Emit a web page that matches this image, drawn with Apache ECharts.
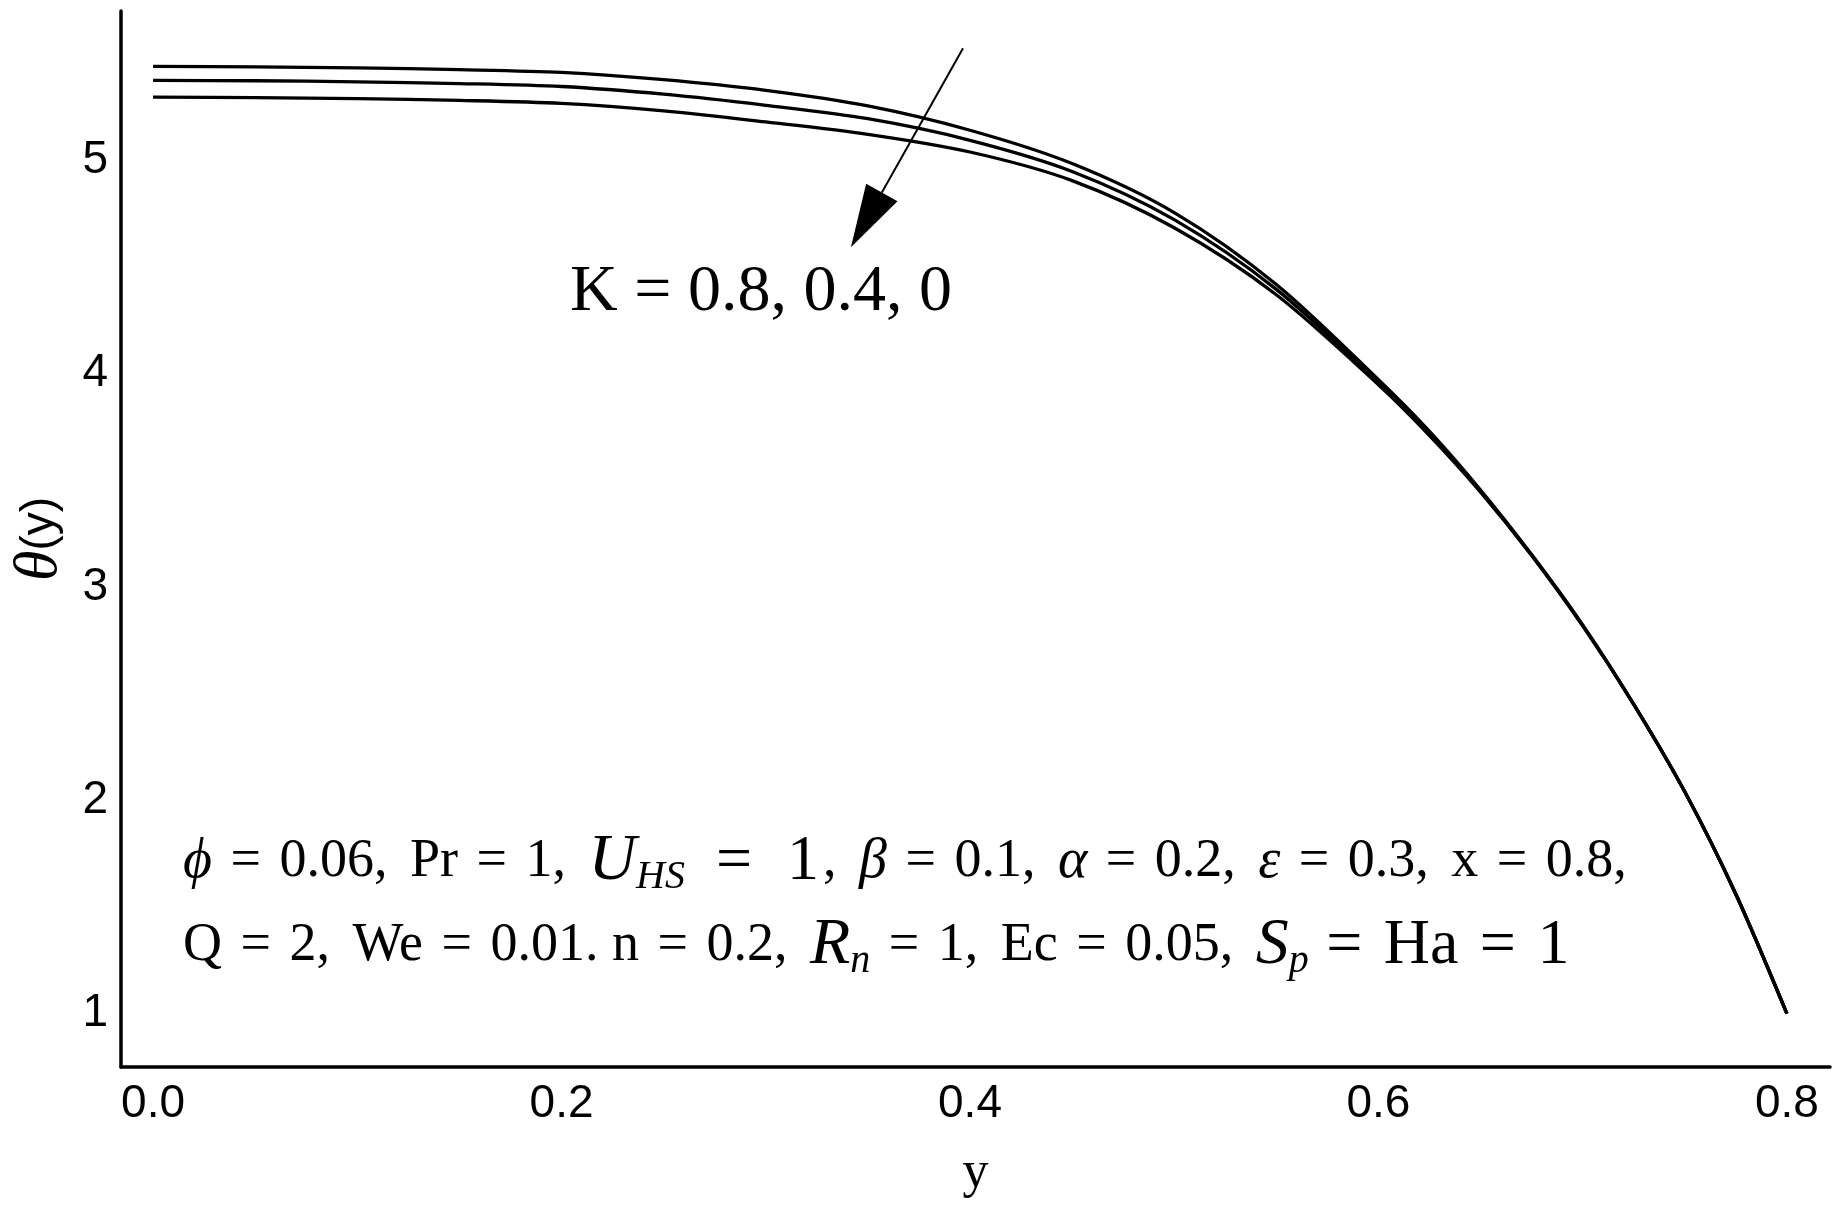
<!DOCTYPE html>
<html>
<head>
<meta charset="utf-8">
<script src="https://cdn.jsdelivr.net/npm/echarts@6/dist/echarts.min.js"></script>
<style>
html,body{margin:0;padding:0;background:#fff;}
#c{width:1848px;height:1212px;}
</style>
</head>
<body>
<div id="c"></div>
<script>
// ---- data ----
const yPos = [0, 0.05, 0.1, 0.15, 0.2, 0.25, 0.3, 0.35, 0.4, 0.45, 0.5, 0.55, 0.6, 0.625, 0.65, 0.675, 0.7, 0.725, 0.75, 0.775, 0.8];
const thetaK08 = [5.440, 5.438, 5.433, 5.425, 5.412, 5.378, 5.328, 5.255, 5.141, 4.985, 4.755, 4.418, 3.972, 3.730, 3.455, 3.152, 2.822, 2.450, 2.040, 1.560, 1.0];
const thetaK04 = [5.375, 5.373, 5.368, 5.360, 5.346, 5.310, 5.258, 5.195, 5.094, 4.948, 4.722, 4.395, 3.960, 3.720, 3.450, 3.150, 2.820, 2.450, 2.040, 1.560, 1.0];
const thetaK0  = [5.296, 5.294, 5.289, 5.281, 5.267, 5.232, 5.180, 5.122, 5.039, 4.905, 4.684, 4.370, 3.948, 3.710, 3.445, 3.148, 2.818, 2.450, 2.040, 1.560, 1.0];
const xTicks = [0, 0.2, 0.4, 0.6, 0.8];
const yTicks = [1, 2, 3, 4, 5];
const seriesNames = ['K = 0.8', 'K = 0.4', 'K = 0'];
// arrow annotation anchors (data coordinates)
const arrowStart = [0.3966, 5.525];
const arrowTip = [0.3417, 4.592];

const SANS = '"Liberation Sans", Arial, sans-serif';
const SERIF = '"Liberation Serif", "Times New Roman", serif';

const chart = echarts.init(document.getElementById('c'), null, {renderer: 'canvas'});
const pairs = ys => yPos.map((x, i) => [x, ys[i]]);
const lineSeries = (name, ys) => ({
  name: name, type: 'line', data: pairs(ys), smooth: 0.3, symbol: 'none', showSymbol: false,
  lineStyle: {color: '#000', width: 3.3}, silent: true
});

chart.setOption({
  animation: false,
  backgroundColor: '#fff',
  grid: {left: 121, right: 18, top: 11, bottom: 145},
  xAxis: {
    type: 'value', min: -0.0157, max: 0.8211,
    name: 'y', nameLocation: 'middle', nameGap: 80,
    nameTextStyle: {fontFamily: SERIF, fontSize: 52, color: '#000'},
    axisLine: {onZero: false, lineStyle: {color: '#000', width: 3.5}},
    axisTick: {show: false}, splitLine: {show: false},
    axisLabel: {customValues: xTicks, formatter: v => v.toFixed(1), fontFamily: SANS, fontSize: 46, color: '#000', margin: 14}
  },
  yAxis: {
    type: 'value', min: 0.75, max: 5.7,
    name: '{t|θ}{s|(y)}', nameLocation: 'middle', nameGap: 50, nameRotate: 90,
    nameTextStyle: {
      color: '#000',
      rich: {
        t: {fontFamily: SERIF, fontStyle: 'italic', fontSize: 62, color: '#000'},
        s: {fontFamily: SANS, fontSize: 46, color: '#000'}
      }
    },
    axisLine: {onZero: false, lineStyle: {color: '#000', width: 3.5}},
    axisTick: {show: false}, splitLine: {show: false},
    axisLabel: {customValues: yTicks, formatter: v => String(v), fontFamily: SANS, fontSize: 46, color: '#000', margin: 13}
  },
  series: [
    lineSeries(seriesNames[0], thetaK08),
    lineSeries(seriesNames[1], thetaK04),
    lineSeries(seriesNames[2], thetaK0)
  ]
});

// ---- annotations ----
const p0 = chart.convertToPixel({gridIndex: 0}, arrowStart);
const p1 = chart.convertToPixel({gridIndex: 0}, arrowTip);
const dx = p1[0] - p0[0], dy = p1[1] - p0[1];
const len = Math.sqrt(dx * dx + dy * dy);
const ux = dx / len, uy = dy / len;
const headLen = 63, headHalf = 18;
const bx = p1[0] - ux * headLen, by = p1[1] - uy * headLen;
const px = -uy, py = ux;

const R = {
  it:  {fontFamily: SERIF, fontStyle: 'italic', fontSize: 56, fill: '#000'},
  big: {fontFamily: SERIF, fontStyle: 'italic', fontSize: 66, fill: '#000'},
  sub: {fontFamily: SERIF, fontStyle: 'italic', fontSize: 40, fill: '#000', padding: [30, 0, 0, 0]},
  eq:  {fontFamily: SERIF, fontSize: 54, fill: '#000', padding: [0, 5, 0, 5]},
  c:   {fontFamily: SERIF, fontSize: 54, fill: '#000', padding: [0, 9, 0, 0]},
  L:   {fontFamily: SERIF, fontSize: 64, fill: '#000', padding: [0, 4, 0, 4]}
};
const line1 = '{it|ϕ} {eq|=} 0.06{c|,} Pr {eq|=} 1{c|,} {big|U}{sub|HS}  {L|=}  {L|1}{c|,} {it|β} {eq|=} 0.1{c|,} {it|α} {eq|=} 0.2{c|,} {it|ε} {eq|=} 0.3{c|,} x {eq|=} 0.8,';
const line2 = 'Q {eq|=} 2{c|,} We {eq|=} 0.01. n {eq|=} 0.2{c|,} {big|R}{sub|n} {eq|=} 1{c|,} Ec {eq|=} 0.05{c|,} {big|S}{sub|p} {L|=} {L|Ha} {L|=} {L|1}';

chart.setOption({
  graphic: [
    {type: 'line', silent: true, shape: {x1: p0[0], y1: p0[1], x2: bx, y2: by}, style: {stroke: '#000', lineWidth: 2}},
    {type: 'polygon', silent: true, shape: {points: [[p1[0], p1[1]], [bx + px * headHalf, by + py * headHalf], [bx - px * headHalf, by - py * headHalf]]}, style: {fill: '#000'}},
    {type: 'text', silent: true, style: {text: 'K = 0.8, 0.4, 0', x: 570, y: 293, verticalAlign: 'middle', fontFamily: SERIF, fontSize: 66, fill: '#000'}},
    {type: 'text', silent: true, style: {text: line1, x: 183, y: 862, verticalAlign: 'middle', fontFamily: SERIF, fontSize: 54, fill: '#000', rich: R}},
    {type: 'text', silent: true, style: {text: line2, x: 183, y: 946, verticalAlign: 'middle', fontFamily: SERIF, fontSize: 54, fill: '#000', rich: R}}
  ]
});
</script>
</body>
</html>
